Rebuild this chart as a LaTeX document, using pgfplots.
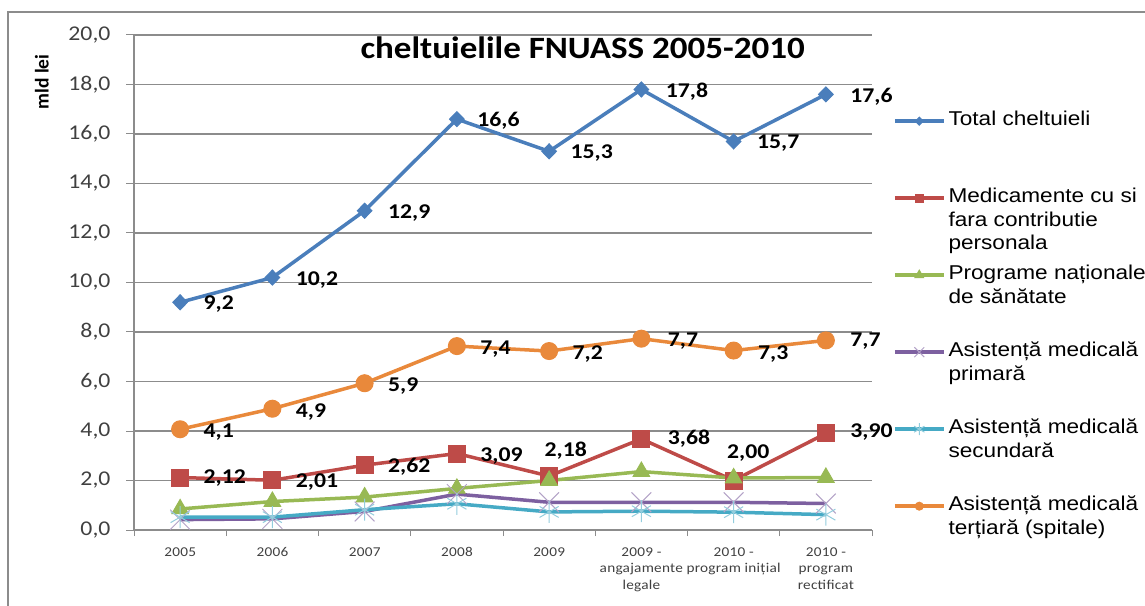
\documentclass[border=0pt]{standalone}
\usepackage{pgfplots}
\pgfplotsset{compat=1.18}
\usepackage{pgfplotstable}
\usepackage{fontspec}
\setmainfont[FakeStretch=1.13]{Carlito}
\newfontfamily\legfont[FakeStretch=1.13]{Liberation Sans}
\newfontfamily\plainfont{Carlito}
\newfontfamily\xfont[FakeStretch=1.13,LetterSpace=2]{Carlito}

\definecolor{cblue}{HTML}{4A7EBB}
\definecolor{cred}{HTML}{BE4B48}
\definecolor{cgreen}{HTML}{98B954}
\definecolor{cpurple}{HTML}{7D60A0}
\definecolor{cpurplem}{HTML}{B3A2C7}
\definecolor{ccyan}{HTML}{46AAC5}
\definecolor{ccyanm}{HTML}{93CDDD}
\definecolor{corange}{HTML}{E9893B}
\definecolor{axgray}{HTML}{8C8C8C}
\definecolor{ticktext}{HTML}{404040}

\newcommand{\lent}[1]{\smash{\begin{tabular}[t]{@{}l@{}}#1\end{tabular}}}

\pgfplotstableread{
x y lab dx dy
0 9.2 9,2 23 -2
1 10.2 10,2 23 -2
2 12.9 12,9 23 -2
3 16.6 16,6 20 -2
4 15.3 15,3 21 -2
5 17.8 17,8 24 -2
6 15.7 15,7 23 -2
7 17.6 17,6 24 -2
}\tot
\pgfplotstableread{
x y lab dx dy
0 2.12 2,12 23 -1
1 2.01 2,01 23 -2
2 2.62 2,62 23 -2
3 3.09 3,09 23 -3
4 2.18 2,18 -5 25
5 3.68 3,68 26 0
6 2.00 2,00 -7 27
7 3.90 3,90 24 1
}\med
\pgfplotstableread{
x y
0 0.85
1 1.15
2 1.33
3 1.68
4 2.00
5 2.36
6 2.10
7 2.12
}\prog
\pgfplotstableread{
x y
0 0.42
1 0.45
2 0.75
3 1.45
4 1.12
5 1.12
6 1.12
7 1.07
}\prim
\pgfplotstableread{
x y
0 0.52
1 0.52
2 0.82
3 1.06
4 0.73
5 0.76
6 0.72
7 0.62
}\sec
\pgfplotstableread{
x y lab dx dy
0 4.07 4,1 23 -3
1 4.90 4,9 23 -3
2 5.93 5,9 23 -3
3 7.43 7,4 23 -3
4 7.23 7,2 23 -3
5 7.73 7,7 26 -2
6 7.25 7,3 24 -3
7 7.66 7,7 24 -1
}\ter

\begin{document}
\begin{tikzpicture}[x=1pt,y=1pt]
\useasboundingbox (0,0) rectangle (1145,605);
\draw[axgray, line width=1.5pt] (8,-5) -- (8,593) -- (1150,593);
\begin{axis}[
  at={(134pt,75pt)}, anchor=south west,
  scale only axis, width=738pt, height=495pt,
  xmin=-0.5, xmax=7.5, ymin=0, ymax=20,
  clip=false,
  axis x line*=bottom, axis y line*=left,
  axis line style={draw=axgray, line width=1.3pt, -},
  xtick={0,...,7},
  xticklabels={2005,2006,2007,2008,2009,{2009 -\\angajamente\\legale},{2010 -\\program inițial},{2010 -\\program\\rectificat}},
  xticklabel style={font=\xfont\fontsize{13.5}{16.5}\selectfont, align=center, text=ticktext, yshift=-6pt},
  x tick style={draw=none},
  minor xtick={-0.5,0.5,...,7.5},
  minor x tick style={draw=axgray, line width=1pt},
  minor tick length=6pt,
  ytick={0,2,...,20},
  major tick length=8pt,
  tick align=outside,
  y tick style={draw=axgray, line width=1pt},
  ymajorgrids, major grid style={draw=axgray, line width=1.2pt},
  yticklabel style={font=\fontsize{21}{24}\selectfont, text=ticktext, xshift=-12pt},
  /pgf/number format/fixed, /pgf/number format/fixed zerofill,
  /pgf/number format/precision=1, /pgf/number format/use comma,
  /pgf/number format/assume math mode=true,
  ylabel={mld lei},
  ylabel style={font=\plainfont\bfseries\fontsize{19.5}{22}\selectfont, at={(axis description cs:-0.125,0.905)}, anchor=center},
  title={cheltuielile FNUASS 2005-2010},
  title style={at={(axis description cs:0.608,0.962)}, anchor=center, font=\bfseries\fontsize{31}{36}\selectfont},
  legend style={at={(axis description cs:1.0285,0.8677)}, anchor=north west, draw=none, fill=none, inner sep=0pt, outer sep=0pt, row sep=0pt, column sep=3pt, font=\legfont\fontsize{20}{23.5}\selectfont, nodes={inner sep=0pt}},
  legend cell align=left,
  legend image code/.code={\path[draw=none, fill=none] (0pt,-51pt) -- (0pt,26pt);
    \draw[mark repeat=2, mark phase=2, #1] plot coordinates {(0pt,5.3pt) (24.5pt,5.3pt) (49pt,5.3pt)};},
  every axis plot/.append style={line width=3.5pt},
  dlab/.style={nodes near coords, point meta=explicit symbolic,
    visualization depends on={\thisrow{dx} \as \dx},
    visualization depends on={\thisrow{dy} \as \dy},
    nodes near coords style={font=\bfseries\fontsize{21}{24}\selectfont, text=black, anchor=west, inner sep=0pt, xshift=\dx pt, yshift=\dy pt}},
]
\addplot[cblue, mark=diamond*, mark size=7.5pt, mark options={solid, xscale=1.3, fill=cblue, draw=cblue, line width=1pt}, dlab, legend image post style={mark size=4pt}] table[x=x, y=y, meta=lab] {\tot};
\addlegendentry{\lent{Total cheltuieli}}
\addplot[cred, mark=square*, mark size=8.5pt, mark options={solid, fill=cred, draw=cred, line width=1pt}, dlab, legend image post style={mark size=4pt}] table[x=x, y=y, meta=lab] {\med};
\addlegendentry{\lent{Medicamente cu si\\fara contributie\\personala}}
\addplot[cgreen, mark=triangle*, mark size=9.5pt, mark options={solid, fill=cgreen, draw=cgreen, line width=1pt}, legend image post style={mark size=5pt}] table[x=x, y=y] {\prog};
\addlegendentry{\lent{Programe naționale\\de sănătate}}
\addplot[cpurple, mark=x, mark size=14pt, mark options={solid, draw=cpurplem, line width=1pt}, legend image post style={mark size=7pt}] table[x=x, y=y] {\prim};
\addlegendentry{\lent{Asistență medicală\\primară}}
\addplot[ccyan, mark=asterisk, mark size=11pt, mark options={solid, draw=ccyanm, line width=1pt}, legend image post style={mark size=6pt}] table[x=x, y=y] {\sec};
\addlegendentry{\lent{Asistență medicală\\secundară}}
\addplot[corange, mark=*, mark size=8.5pt, mark options={solid, fill=corange, draw=corange, line width=1pt}, dlab, legend image post style={mark size=4pt}] table[x=x, y=y, meta=lab] {\ter};
\addlegendentry{\lent{Asistență medicală\\terțiară (spitale)}}
\end{axis}
\end{tikzpicture}
\end{document}
